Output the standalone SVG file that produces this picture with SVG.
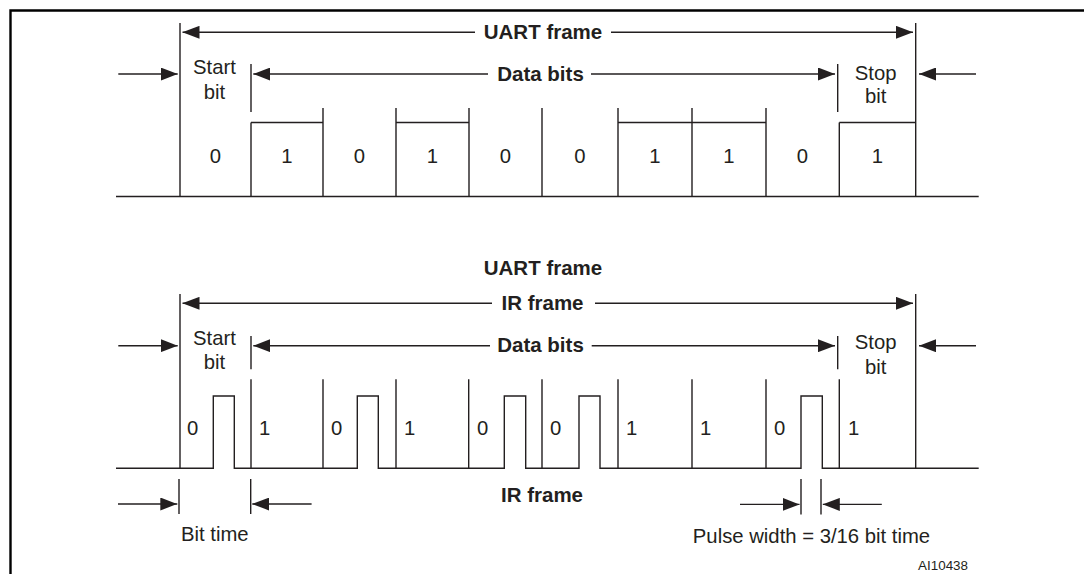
<svg xmlns="http://www.w3.org/2000/svg" width="1084" height="574" viewBox="0 0 1084 574">
<defs>
<marker id="ah" markerUnits="userSpaceOnUse" markerWidth="17" markerHeight="13" viewBox="0 0 17 13" refX="17" refY="6.5" orient="auto-start-reverse">
<path d="M0,0 L17,6.5 L0,13 z" fill="#231f20"/>
</marker>
</defs>
<style>
.ln{stroke:#231f20;stroke-width:1.4;fill:none}
.ar{stroke:#231f20;stroke-width:1.4;fill:none;marker-end:url(#ah)}
.ar2{stroke:#231f20;stroke-width:1.4;fill:none;marker-start:url(#ah)}
.t{font-family:"Liberation Sans",Arial,sans-serif;font-size:20.3px;fill:#231f20}
.b{font-weight:bold;font-size:20.5px}
.m{text-anchor:middle}
.fr{stroke:#000;stroke-width:2.4;fill:none}
</style>
<rect width="1084" height="574" fill="#fff"/>
<path class="fr" d="M10.5,574 V10.5 H1084"/>

<g id="uart-waveform">
<path class="ln" d="M116,196.5 H978.7"/>
<path class="ln" d="M180,23 V196.5 M915.7,23 V196.5"/>
<path class="ln" d="M323,108 V196.5 M396,108 V196.5 M469,108 V196.5 M542,108 V196.5 M618,108 V196.5 M692,108 V196.5 M766,108 V196.5"/>
<path class="ln" d="M251,122.5 V196.5 M839.3,122.5 V196.5"/>
<path class="ln" d="M251,122.5 H323 M396,122.5 H469 M618,122.5 H766 M839.3,122.5 H915.7"/>
<g class="t m">
<text x="215.5" y="163.3">0</text>
<text x="287" y="163.3">1</text>
<text x="359.5" y="163.3">0</text>
<text x="432.5" y="163.3">1</text>
<text x="505.5" y="163.3">0</text>
<text x="580" y="163.3">0</text>
<text x="655" y="163.3">1</text>
<text x="729" y="163.3">1</text>
<text x="802.5" y="163.3">0</text>
<text x="877.4" y="163.3">1</text>
</g>
</g>

<g id="uart-labels">
<text class="t b m" x="543" y="39">UART frame</text>
<text class="t b m" x="540.5" y="80.5">Data bits</text>
<text class="t m" x="214.5" y="74">Start</text>
<text class="t m" x="214.5" y="99">bit</text>
<text class="t m" x="875.7" y="80">Stop</text>
<text class="t m" x="875.7" y="103.3">bit</text>
</g>

<g id="ir-waveform">
<path class="ln" d="M116,468.3 H213.3 V396 H234.3 V468.3 H357.3 V396 H378.3 V468.3 H504.3 V396 H525.7 V468.3 H579 V396 H600 V468.3 H801 V396 H822.3 V468.3 H978.7"/>
<path class="ln" d="M180,294 V468.3 M915.7,294 V468.3"/>
<path class="ln" d="M251,379.3 V468.3 M323,379.3 V468.3 M396,379.3 V468.3 M468.7,379.3 V468.3 M542,379.3 V468.3 M618,379.3 V468.3 M692,379.3 V468.3 M766,379.3 V468.3 M839.3,379.3 V468.3"/>
<g class="t">
<text x="187" y="435">0</text>
<text x="259" y="435">1</text>
<text x="331" y="435">0</text>
<text x="404" y="435">1</text>
<text x="477" y="435">0</text>
<text x="550" y="435">0</text>
<text x="626" y="435">1</text>
<text x="700" y="435">1</text>
<text x="774" y="435">0</text>
<text x="848" y="435">1</text>
</g>
</g>

<g id="ir-labels">
<text class="t b m" x="543" y="275">UART frame</text>
<text class="t b m" x="542.5" y="310">IR frame</text>
<text class="t b m" x="540.5" y="352">Data bits</text>
<text class="t m" x="214.5" y="345">Start</text>
<text class="t m" x="214.5" y="369">bit</text>
<text class="t m" x="875.7" y="349.3">Stop</text>
<text class="t m" x="875.7" y="374">bit</text>
<text class="t b m" x="542" y="502">IR frame</text>
<text class="t" x="181" y="541">Bit time</text>
<text class="t m" x="811.5" y="543">Pulse width = 3/16 bit time</text>
<text class="t" x="968" y="570" style="font-size:13.4px;text-anchor:end">AI10438</text>
</g>

<g id="connectors">
<!-- top UART frame -->
<path class="ar2" d="M182.5,32.3 H475"/>
<path class="ar" d="M611,32.3 H913"/>
<!-- top data bits -->
<path class="ln" d="M251,64 V112 M837.7,64 V112"/>
<path class="ar2" d="M253.3,74 H488"/>
<path class="ar" d="M591,74 H835"/>
<!-- top outer arrows -->
<path class="ar" d="M118.3,74 H177.7"/>
<path class="ar" d="M976,74 H919"/>
<!-- bottom IR frame -->
<path class="ar2" d="M182.5,303.3 H492"/>
<path class="ar" d="M595,303.3 H913"/>
<!-- bottom data bits -->
<path class="ln" d="M251,336 V369.3 M837.7,336 V369.3"/>
<path class="ar2" d="M253.3,345.7 H490"/>
<path class="ar" d="M591.7,345.7 H835"/>
<!-- bottom outer arrows -->
<path class="ar" d="M118.3,345.7 H177.7"/>
<path class="ar" d="M976,345.7 H919"/>
<!-- bit time -->
<path class="ln" d="M179,479 V514 M250.7,479 V514"/>
<path class="ar" d="M118,504 H177.3"/>
<path class="ar" d="M311.6,504 H252.3"/>
<!-- pulse width -->
<path class="ln" d="M801,479 V514.5 M821,479 V514.5"/>
<path class="ar" d="M740,504.4 H799.5"/>
<path class="ar" d="M881.8,504.4 H822.8"/>
</g>
</svg>
